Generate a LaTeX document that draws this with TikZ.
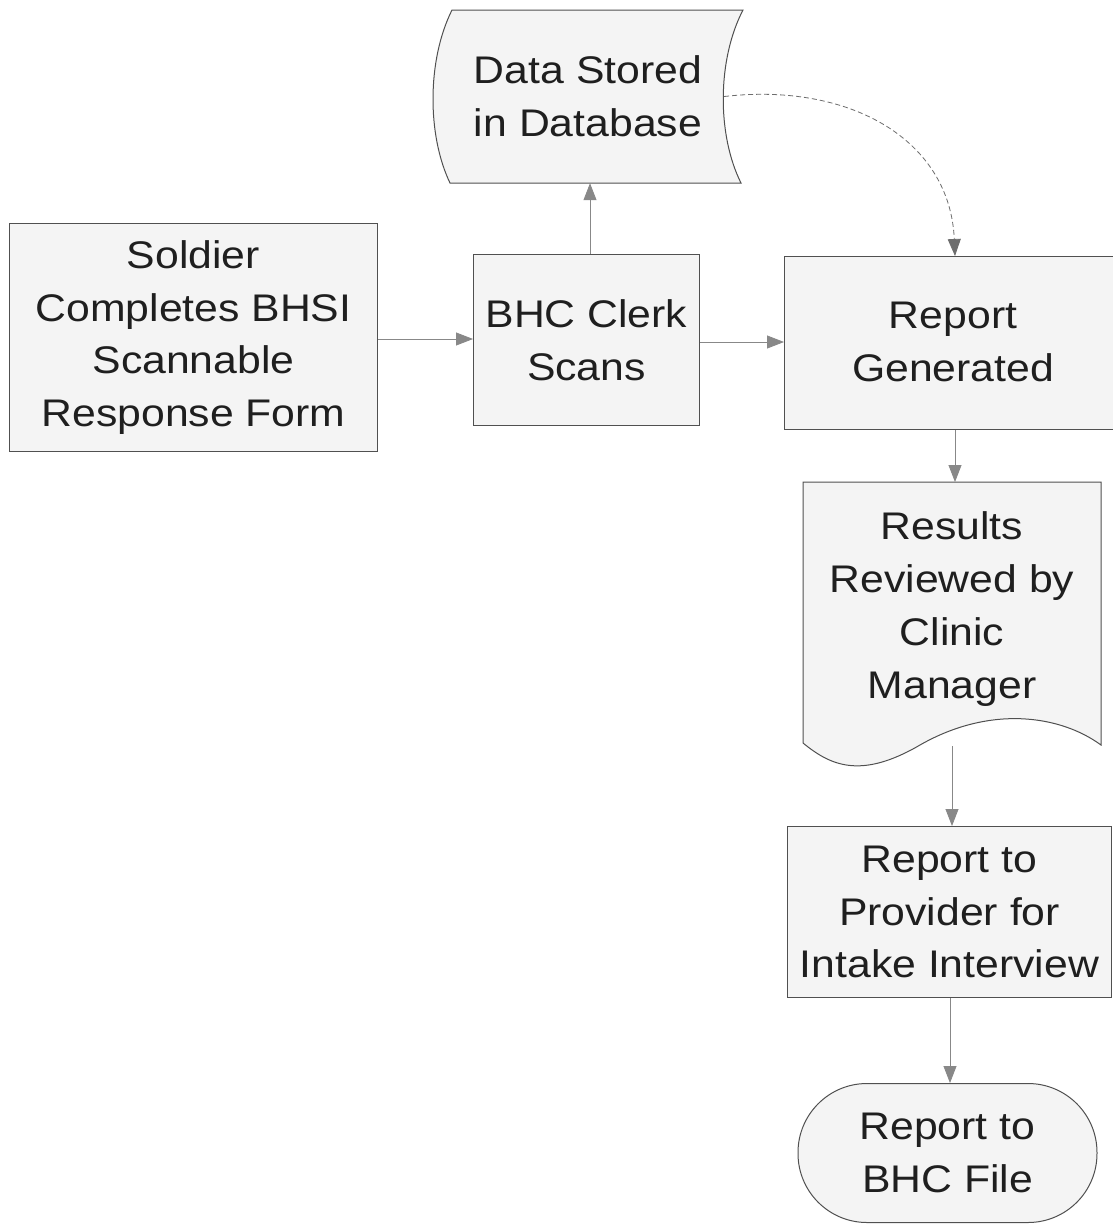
\documentclass[tikz,border=0pt]{standalone}
\usepackage{fontspec}
\setmainfont{Liberation Sans}[FakeStretch=1.11]
\usetikzlibrary{arrows.meta}
\definecolor{boxfill}{HTML}{F4F4F4}
\definecolor{boxline}{HTML}{505050}
\definecolor{arrowc}{HTML}{888888}
\begin{document}
\begin{tikzpicture}[x=1pt,y=-1pt,
  lbl/.style={font=\fontsize{38.5}{52.7}\selectfont, align=center, inner sep=0pt, text=black!88},
  procbox/.style={lbl, draw=boxline, fill=boxfill, line width=1pt, rectangle, anchor=north west},
  shapeline/.style={draw=boxline, fill=boxfill, line width=1pt},
  flow/.style={draw=arrowc, line width=0.8pt, -{Triangle[length=17pt,width=13pt]}},
  dflow/.style={flow, draw=arrowc!80!black, dash pattern=on 5pt off 3pt}]
\useasboundingbox (0,0) rectangle (1113,1224);
\fill[white] (0,0) rectangle (1113,1224);

% stored data shape
\draw[shapeline] (452,10) -- (743,10) .. controls (717,60) and (717,135) .. (741,183)
  -- (450,183) .. controls (427,135) and (427,60) .. cycle;
\node[lbl, minimum width=272pt, minimum height=173pt] (db) at (588,96.5) {Data Stored\\in Database};

% document shape
\draw[shapeline] (803,482) -- (1101,482) -- (1101,745)
  .. controls (1060,715) and (990,705) .. (920,745)
  .. controls (860,780) and (830,765) .. (803,743) -- cycle;
\node[lbl, minimum width=298pt, minimum height=263pt, anchor=north] (res) at (952,482) {};
\node[lbl] at (952,609) {Results\\Reviewed by\\Clinic\\Manager};

% boxes
\node[procbox, minimum width=368pt, minimum height=228pt] (sol) at (9,223) {Soldier\\Completes BHSI\\Scannable\\Response Form};
\node[procbox, minimum width=226pt, minimum height=171pt] (clk) at (473,254) {BHC Clerk\\Scans};
\node[procbox, minimum width=338pt, minimum height=173pt] (rep) at (784,256) {};
\node[lbl] at (953,342) {Report\\Generated};
\node[procbox, minimum width=324pt, minimum height=171pt] (prov) at (787,826) {Report to\\Provider for\\Intake Interview};
\node[lbl, draw=boxline, fill=boxfill, line width=1pt, minimum width=299pt, minimum height=139pt, rounded corners=69pt] (term) at (947.5,1153) {Report to\\BHC File};

% connectors
\draw[flow] (sol.east |- 0,339) -- (clk.west |- 0,339);
\draw[flow] (clk.east |- 0,342) -- (rep.west |- 0,342);
\draw[flow] (clk.north -| 590,0) -- (db.south -| 590,0);
\draw[dflow] (db.east) .. controls (850,82) and (950,140) .. (rep.north -| 955,0);
\draw[flow] (rep.south -| 955,0) -- (res.north -| 955,0);
\draw[flow] (952,746) -- (prov.north -| 952,0);
\draw[flow] (prov.south -| 950,0) -- (term.north -| 950,0);
\end{tikzpicture}
\end{document}
